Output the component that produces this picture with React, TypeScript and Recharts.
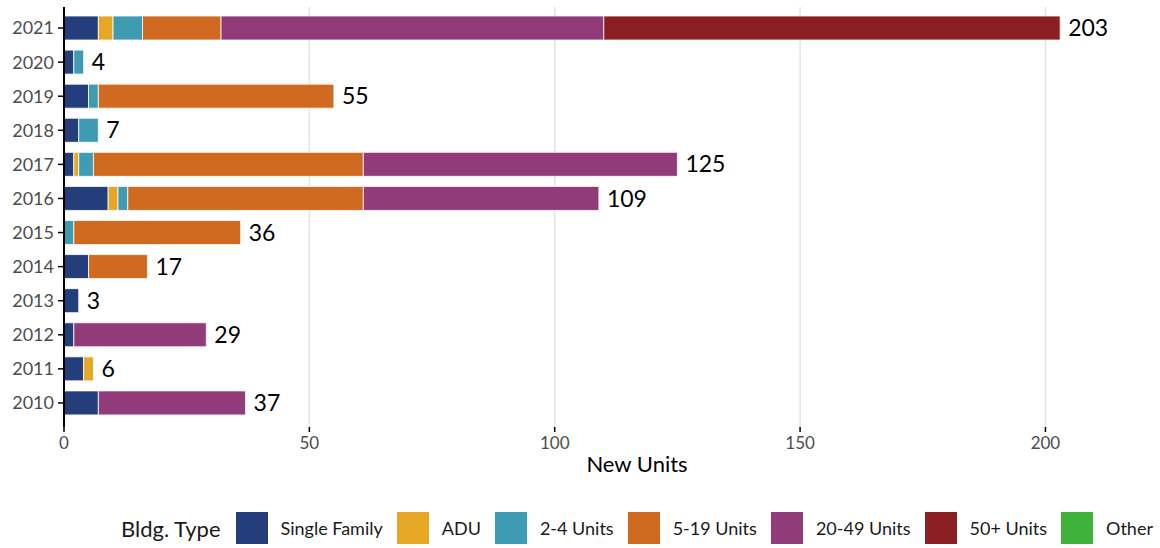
import React from "react";
import {
  BarChart,
  Bar,
  XAxis,
  YAxis,
  CartesianGrid,
  LabelList,
} from "recharts";

// years top-to-bottom as in the picture
const years = ["2021", "2020", "2019", "2018", "2017", "2016", "2015", "2014", "2013", "2012", "2011", "2010"];

const singleFamily = [7, 2, 5, 3, 2, 9, 0, 5, 3, 2, 4, 7];
const adu = [3, 0, 0, 0, 1, 2, 0, 0, 0, 0, 2, 0];
const units2to4 = [6, 2, 2, 4, 3, 2, 2, 0, 0, 0, 0, 0];
const units5to19 = [16, 0, 48, 0, 55, 48, 34, 12, 0, 0, 0, 0];
const units20to49 = [78, 0, 0, 0, 64, 48, 0, 0, 0, 27, 0, 30];
const units50plus = [93, 0, 0, 0, 0, 0, 0, 0, 0, 0, 0, 0];
const other = [0, 0, 0, 0, 0, 0, 0, 0, 0, 0, 0, 0];

const xTicks = [0, 50, 100, 150, 200];

const series = [
  { key: "sf", name: "Single Family", values: singleFamily, color: "#233e7b" },
  { key: "adu", name: "ADU", values: adu, color: "#e6a726" },
  { key: "u24", name: "2-4 Units", values: units2to4, color: "#3f9bb1" },
  { key: "u519", name: "5-19 Units", values: units5to19, color: "#d06a21" },
  { key: "u2049", name: "20-49 Units", values: units20to49, color: "#923b7b" },
  { key: "u50", name: "50+ Units", values: units50plus, color: "#8a1f23" },
  { key: "other", name: "Other", values: other, color: "#3fb23b" },
];

const data = years.map((year, i) => {
  const row: Record<string, number | string> = { year };
  let total = 0;
  let lastKey = "";
  series.forEach((s) => {
    row[s.key] = s.values[i];
    total += s.values[i];
    if (s.values[i] > 0) lastKey = s.key;
  });
  row.total = total;
  row.lastKey = lastKey;
  return row;
});

const FONT = "Lato, 'Noto Sans', sans-serif";

const LegendRow = () => (
  <div
    style={{
      position: "absolute",
      left: 121,
      top: 512,
      width: 1100,
      display: "flex",
      alignItems: "center",
      whiteSpace: "nowrap",
      fontFamily: FONT,
      color: "#1a1a1a",
    }}
  >
    <span style={{ fontSize: 22, marginRight: 15 }}>Bldg. Type</span>
    {series.map((s) => (
      <div key={s.key} style={{ display: "flex", alignItems: "center", marginRight: 14, flexShrink: 0 }}>
        <div style={{ width: 32, height: 32, background: s.color, marginRight: 13 }} />
        <span style={{ fontSize: 18 }}>{s.name}</span>
      </div>
    ))}
  </div>
);

export default function App() {
  return (
    <div style={{ position: "absolute", left: 0, top: 0, width: 1160, height: 548, background: "#fff", overflow: "hidden" }}>
      <BarChart
        width={1160}
        height={548}
        data={data}
        layout="vertical"
        margin={{ top: 7, right: -14, left: 0, bottom: 61 }}
        barSize={24}
      >
        <CartesianGrid horizontal={false} stroke="#e4e4e4" strokeWidth={1.5} syncWithTicks />
        <XAxis
          type="number"
          domain={[0, 226.2]}
          ticks={xTicks}
          height={60}
          axisLine={false}
          tickLine={{ stroke: "#000", strokeWidth: 1.5 }}
          tickSize={5}
          tickMargin={5}
          tick={{ fill: "#4d4d4d", fontSize: 17, fontFamily: FONT }}
          label={{
            value: "New Units",
            position: "insideBottom",
            offset: 15,
            dx: 18,
            fill: "#000",
            fontSize: 22,
            fontFamily: FONT,
          }}
        />
        <YAxis
          type="category"
          dataKey="year"
          width={64}
          padding={{ top: 4, bottom: 7 }}
          axisLine={{ stroke: "#000", strokeWidth: 2 }}
          tickLine={{ stroke: "#000", strokeWidth: 1.5 }}
          tickSize={6}
          tickMargin={4}
          tick={{ fill: "#4d4d4d", fontSize: 18, fontFamily: FONT }}
        />
        {series.map((s) => (
          <Bar
            key={s.key}
            dataKey={s.key}
            name={s.name}
            stackId="a"
            fill={s.color}
            stroke="#fff"
            strokeWidth={0.8}
            isAnimationActive={false}
          >
            <LabelList
              dataKey={(row: any) => (row.lastKey === s.key ? row.total : null)}
              position="right"
              offset={8}
              fill="#000"
              fontSize={23}
              fontFamily={FONT}
            />
          </Bar>
        ))}
      </BarChart>
      <LegendRow />
    </div>
  );
}
